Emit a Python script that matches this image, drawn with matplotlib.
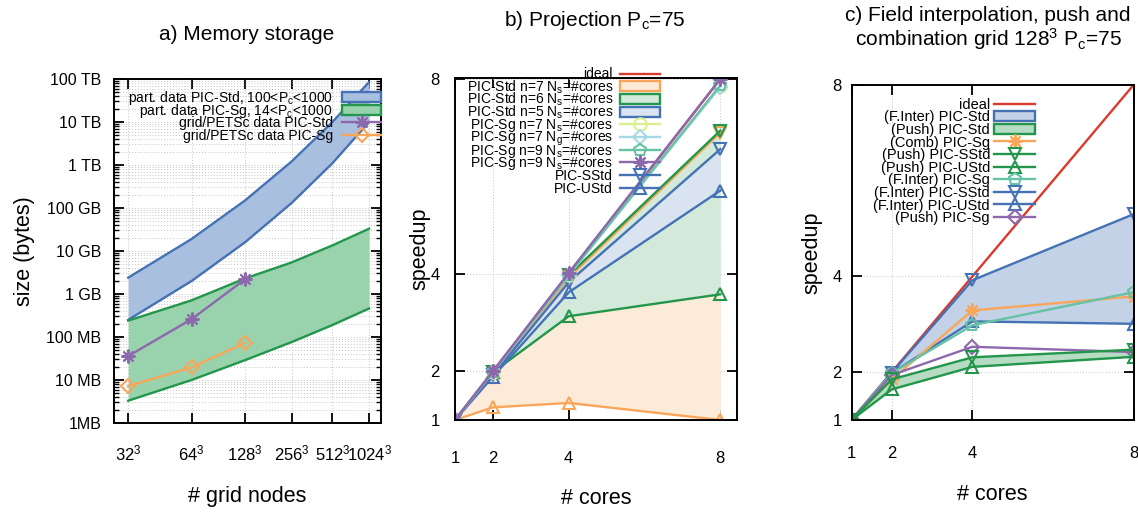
import matplotlib
matplotlib.use("Agg")
import matplotlib.pyplot as plt
from matplotlib.patches import Rectangle
from matplotlib.lines import Line2D
from matplotlib.ticker import FixedLocator, NullLocator, LogLocator

plt.rcParams['font.family'] = ['Liberation Sans', 'DejaVu Sans']
plt.rcParams['mathtext.fontset'] = 'custom'
plt.rcParams['mathtext.rm'] = 'Liberation Sans'
plt.rcParams['mathtext.it'] = 'Liberation Sans:italic'
plt.rcParams['mathtext.bf'] = 'Liberation Sans:bold'

# ---- a) memory storage ----
grid_exp = [5, 6, 7, 8, 9, 10]          # grid = (2^exp)^3
grid_labels = ['32$^\\mathrm{3}$', '64$^\\mathrm{3}$', '128$^\\mathrm{3}$',
               '256$^\\mathrm{3}$', '512$^\\mathrm{3}$', '1024$^\\mathrm{3}$']
std_hi = [2.4e9, 1.9e10, 1.5e11, 1.2e12, 1.0e13, 8.5e13]
std_lo = [2.5e8, 2.0e9, 1.6e10, 1.3e11, 1.1e12, 1.0e13]
sg_hi = [2.4e8, 7.1e8, 2.3e9, 5.4e9, 1.35e10, 3.3e10]
sg_lo = [3.3e6, 1.0e7, 2.9e7, 7.6e7, 1.9e8, 4.6e8]
grid_std = [3.6e7, 2.6e8, 2.2e9]
grid_sg = [7.2e6, 1.96e7, 7.3e7]
size_ticks = [1e6, 1e7, 1e8, 1e9, 1e10, 1e11, 1e12, 1e13, 1e14]
size_labels = ['1MB', '10 MB', '100 MB', '1 GB', '10 GB', '100 GB', '1 TB', '10 TB', '100 TB']

# ---- b) projection ----
cores = [1, 2, 4, 8]
ideal = [1, 2, 4, 8]
std7_s = [1, 1.98, 3.92, 6.90]
std7_u = [1, 1.26, 1.35, 1.0]
std6_s = [1, 1.99, 3.97, 6.94]
std6_u = [1, 1.98, 3.13, 3.58]
std5_s = [1, 1.92, 3.83, 6.56]
std5_u = [1, 1.89, 3.62, 5.71]
sg7_ns = [1, 1.99, 3.98, 7.86]
sg7_ng = [1, 1.99, 3.97, 7.84]
sg9_ns = [1, 1.99, 3.98, 7.87]
sg9_ns2 = [1, 2.0, 4.02, 8.0]

# ---- c) field interpolation / push / combination ----
finter_sstd = [1, 1.99, 3.92, 5.3]
finter_ustd = [1, 1.98, 3.06, 3.01]
comb_sg = [1, 1.85, 3.29, 3.58]
finter_sg = [1, 1.98, 2.98, 3.67]
push_sg = [1, 1.94, 2.53, 2.42]
push_sstd = [1, 1.85, 2.31, 2.47]
push_ustd = [1, 1.64, 2.11, 2.32]
speed_ticks = [1, 2, 4, 8]

blue = '#4472b4'
green = '#23964b'
orange = '#f9a65a'
purple = '#8e68ad'
red = '#d93a2b'
teal = '#66c2a5'
lime = '#dcef8e'
lblue = '#a6d9e8'

W, H = 1138, 512
fig = plt.figure(figsize=(W / 100, H / 100), dpi=100)


def px_axes(l, t, r, b):
    return fig.add_axes([l / W, 1 - b / H, (r - l) / W, (b - t) / H])


def style(ax):
    for s in ax.spines.values():
        s.set_linewidth(1.4)
    ax.tick_params(which='major', direction='in', top=True, right=True,
                   length=7, width=1.3, labelsize=11.5)
    ax.tick_params(which='minor', direction='in', top=True, right=True,
                   length=3.5, width=1.0)


grid_kw = dict(ls=(0, (1, 2)), color='#c4c4c4', lw=0.7)
ast = (8, 2, 0)
msize = {ast: 10, 'D': 7, 'o': 9, 'p': 9, 'v': 8, '^': 8}


def mk(m):
    return dict(marker=m, mfc='none', mew=1.5, ms=msize[m], lw=1.7)


def legend_rows(rows, x_text, x0, x1, y0, dy, fs):
    # gnuplot-like key: text right aligned, sample to the right
    tf = fig.transFigure
    for i, (label, color, marker, fill) in enumerate(rows):
        yc = y0 + i * dy
        fig.text(x_text / W, 1 - (yc + 0.36 * fs * 100 / 72) / H, label,
                 ha='right', va='baseline', fontsize=fs)
        if fill is not None:
            fig.add_artist(Rectangle((x0 / W, 1 - (yc + 5) / H), (x1 - x0) / W, 10 / H,
                                     transform=tf, fc=fill, ec=color, lw=1.7))
        else:
            fig.add_artist(Line2D([x0 / W, x1 / W], [1 - yc / H] * 2, transform=tf,
                                  color=color, lw=1.7))
            if marker is not None:
                fig.add_artist(Line2D([(x0 + x1) / 2 / W], [1 - yc / H], transform=tf,
                                      color=color, **mk(marker)))


# ================= panel a =================
ax = px_axes(114, 79, 381, 423)
ax.set_xscale('log')
ax.set_yscale('log')
ax.fill_between(grid_exp, std_lo, std_hi, color='#a9bfdf', lw=0)
ax.plot(grid_exp, std_hi, color=blue, lw=1.7)
ax.plot(grid_exp, std_lo, color=blue, lw=1.7)
ax.fill_between(grid_exp, sg_lo, sg_hi, color='#98d3ae', lw=0)
ax.plot(grid_exp, sg_hi, color=green, lw=1.7)
ax.plot(grid_exp, sg_lo, color=green, lw=1.7)
ax.plot(grid_exp[:3], grid_std, color=purple, **mk(ast))
ax.plot(grid_exp[:3], grid_sg, color=orange, **mk('D'))
ax.set_xlim(4.8, 10.35)
ax.set_ylim(1e6, 1e14)
ax.xaxis.set_major_locator(FixedLocator(grid_exp))
ax.xaxis.set_minor_locator(NullLocator())
ax.set_xticklabels(grid_labels)
ax.yaxis.set_major_locator(FixedLocator(size_ticks))
ax.yaxis.set_minor_locator(LogLocator(base=10, subs=range(2, 10), numticks=20))
ax.yaxis.set_minor_formatter(plt.NullFormatter())
ax.set_yticklabels(size_labels)
ax.grid(True, which='both', **grid_kw)
style(ax)
ax.tick_params(axis='x', pad=15, labelsize=12)
ax.tick_params(axis='y', pad=9)
ax.set_xlabel('# grid nodes', fontsize=15.5, labelpad=16)
ax.set_ylabel('size (bytes)', fontsize=15.5, labelpad=8)
ax.set_axisbelow(True)
legend_rows([
    ('part. data PIC-Std, 100<P$_\\mathrm{c}$<1000', blue, None, '#a9bfdf'),
    ('part. data PIC-Sg, 14<P$_\\mathrm{c}$<1000', green, None, '#98d3ae'),
    ('grid/PETSc data PIC-Std', purple, ast, None),
    ('grid/PETSc data PIC-Sg', orange, 'D', None),
], 333, 342, 381, 97, 12.6, 10)
fig.text(247 / W, 1 - 35 / H, 'a) Memory storage', ha='center', va='center', fontsize=15)

# ================= panel b =================
ax = px_axes(455, 78, 737, 420)
ax.fill_between(cores, std7_u, std7_s, color='#fdebd9', lw=0)
ax.fill_between(cores, std6_u, std6_s, color='#d3eadb', lw=0)
ax.fill_between(cores, std5_u, std5_s, color='#dae3f0', lw=0)
ax.plot(cores, ideal, color=red, lw=1.7)
ax.plot(cores, std7_s, color=orange, **mk('v'))
ax.plot(cores, std7_u, color=orange, **mk('^'))
ax.plot(cores, std6_s, color=green, **mk('v'))
ax.plot(cores, std6_u, color=green, **mk('^'))
ax.plot(cores, std5_s, color=blue, **mk('v'))
ax.plot(cores, std5_u, color=blue, **mk('^'))
ax.plot(cores, sg7_ns, color=lime, **mk('o'))
ax.plot(cores, sg7_ng, color=lblue, **mk('D'))
ax.plot(cores, sg9_ns, color=teal, **mk('p'))
ax.plot(cores, sg9_ns2, color=purple, **mk(ast))
ax.set_xlim(1, 8.44)
ax.set_ylim(1, 8.02)
ax.set_xticks(speed_ticks)
ax.set_yticks(speed_ticks)
ax.grid(True, **grid_kw)
ax.set_axisbelow(True)
style(ax)
ax.tick_params(axis='x', pad=22, labelsize=12)
ax.tick_params(axis='y', pad=11, labelsize=12)
ax.set_xlabel('# cores', fontsize=15.5, labelpad=16)
ax.set_ylabel('speedup', fontsize=15.5, labelpad=0)
legend_rows([
    ('ideal', red, None, None),
    ('PIC-Std n=7 N$_\\mathrm{s}$=#cores', orange, None, '#fdebd9'),
    ('PIC-Std n=6 N$_\\mathrm{s}$=#cores', green, None, '#d3eadb'),
    ('PIC-Std n=5 N$_\\mathrm{s}$=#cores', blue, None, '#dae3f0'),
    ('PIC-Sg n=7 N$_\\mathrm{s}$=#cores', lime, 'o', None),
    ('PIC-Sg n=7 N$_\\mathrm{g}$=#cores', lblue, 'D', None),
    ('PIC-Sg n=9 N$_\\mathrm{s}$=#cores', teal, 'p', None),
    ('PIC-Sg n=9 N$_\\mathrm{s}$=#cores', purple, ast, None),
    ('PIC-SStd', blue, 'v', None),
    ('PIC-UStd', blue, '^', None),
], 613, 620, 660, 73.5, 12.7, 10)
fig.text(595 / W, 1 - 20 / H, 'b) Projection P$_\\mathrm{c}$=75', ha='center', va='center',
         fontsize=15)

# ================= panel c =================
ax = px_axes(851.5, 85, 1133.5, 420)
ax.fill_between(cores, finter_ustd, finter_sstd, color='#c3d2e6', lw=0)
ax.fill_between(cores, push_ustd, push_sstd, color='#b6dcc3', lw=0)
ax.plot(cores, ideal, color=red, lw=1.7)
ax.plot(cores, finter_sstd, color=blue, **mk('v'))
ax.plot(cores, finter_ustd, color=blue, **mk('^'))
ax.plot(cores, comb_sg, color=orange, **mk(ast))
ax.plot(cores, finter_sg, color=teal, **mk('p'))
ax.plot(cores, push_sg, color=purple, **mk('D'))
ax.plot(cores, push_sstd, color=green, **mk('v'))
ax.plot(cores, push_ustd, color=green, **mk('^'))
ax.set_xlim(1, 8)
ax.set_ylim(1, 8)
ax.set_xticks(speed_ticks)
ax.set_yticks(speed_ticks)
ax.grid(True, **grid_kw)
ax.set_axisbelow(True)
style(ax)
ax.tick_params(axis='x', pad=19, labelsize=12)
ax.tick_params(axis='y', pad=7, labelsize=12)
ax.set_xlabel('# cores', fontsize=15.5, labelpad=16)
ax.set_ylabel('speedup', fontsize=15.5, labelpad=7)
legend_rows([
    ('ideal', red, None, None),
    ('(F.Inter) PIC-Std', blue, None, '#c3d2e6'),
    ('(Push) PIC-Std', green, None, '#b6dcc3'),
    ('(Comb) PIC-Sg', orange, ast, None),
    ('(Push) PIC-SStd', green, 'v', None),
    ('(Push) PIC-UStd', green, '^', None),
    ('(F.Inter) PIC-Sg', teal, 'p', None),
    ('(F.Inter) PIC-SStd', blue, 'v', None),
    ('(F.Inter) PIC-UStd', blue, '^', None),
    ('(Push) PIC-Sg', purple, 'D', None),
], 990, 994, 1035, 103.5, 12.6, 10.5)
fig.text(988 / W, 1 - 29 / H,
         'c) Field interpolation, push and\ncombination grid 128$^\\mathrm{3}$ P$_\\mathrm{c}$=75',
         ha='center', va='center', fontsize=15, linespacing=1.1)

fig.savefig('out.png', dpi=100)
